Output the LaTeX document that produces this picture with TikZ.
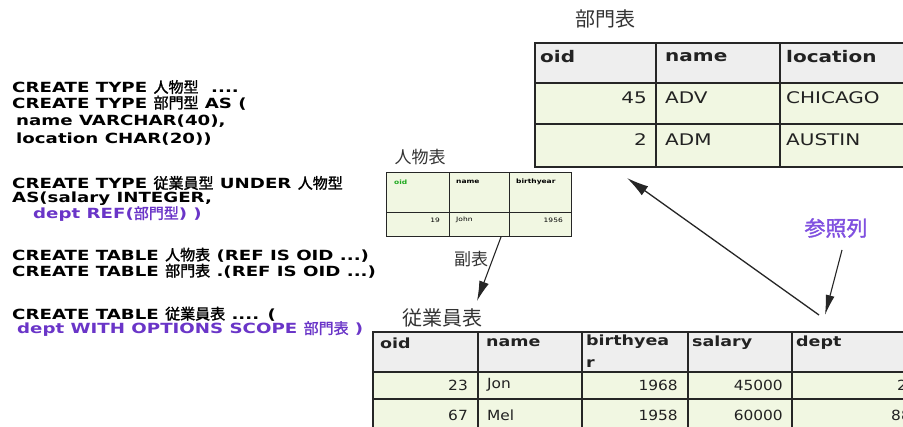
\documentclass[tikz,border=0pt]{standalone}
\usepackage{fontspec}
\usetikzlibrary{arrows.meta}
\setmainfont{DejaVu Sans}
\newfontfamily\cjk{Noto Sans CJK JP}
\newfontfamily\cjkb{Noto Sans CJK JP}[FakeBold=1.5]
\newfontfamily\codef{DejaVu Sans Bold}[FakeStretch=1.3]
\newfontfamily\tabr{DejaVu Sans}[FakeStretch=1.25]
\newfontfamily\tabrn{DejaVu Sans}[FakeStretch=1.1]
\newfontfamily\tabb{DejaVu Sans Bold}[FakeStretch=1.25]
\definecolor{dfill}{HTML}{F1F7E2}
\definecolor{hfill}{HTML}{EEEEEE}
\definecolor{purp}{HTML}{6A35C8}
\definecolor{refc}{HTML}{8050E0}
\definecolor{grn}{HTML}{22AA22}
\definecolor{txt}{HTML}{222222}
\newcommand\cj[1]{{\fontsize{15}{15}\cjkb #1}}
\begin{document}
\begin{tikzpicture}[x=1pt,y=-1pt,
  code/.style={anchor=west, inner sep=0pt, font=\fontsize{14}{14}\codef},
  tline/.style={draw=black!85, line width=1.3pt},
  thin/.style={draw=black!85, line width=1pt},
  th/.style={anchor=west, inner sep=0pt, text=txt, font=\fontsize{16}{16}\tabb},
  td/.style={anchor=west, inner sep=0pt, text=txt, font=\fontsize{16}{16}\tabr},
  tdr/.style={anchor=east, inner sep=0pt, text=txt, font=\fontsize{16}{16}\tabr},
  lh/.style={anchor=west, inner sep=0pt, text=txt, font=\fontsize{14}{22}\tabb},
  ld/.style={anchor=west, inner sep=0pt, text=txt, font=\fontsize{14}{14}\tabrn},
  ldr/.style={anchor=east, inner sep=0pt, text=txt, font=\fontsize{14}{14}\tabrn},
  sh/.style={anchor=west, inner sep=0pt, font=\fontsize{6}{6}\tabb},
  sd/.style={anchor=west, inner sep=0pt, font=\fontsize{6}{6}\tabr},
  sdr/.style={anchor=east, inner sep=0pt, font=\fontsize{6}{6}\tabr},
  title/.style={inner sep=0pt, text=black!80},
  arr/.style={draw=black!85, line width=1.3pt, -{Latex[length=22pt,width=11pt]}}
]
\useasboundingbox (0,0) rectangle (903,427);
\clip (0,0) rectangle (903,427);
\fill[white] (0,0) rectangle (903,427);

% ---- code text ----
\node[code] (c1) at (12,87) {CREATE TYPE \cj{人物型}\ \ ....};
\node[code] (c2) at (12,103) {CREATE TYPE \cj{部門型} AS (};
\node[code] (c3) at (16,121) {name VARCHAR(40),};
\node[code] (c4) at (16,139) {location CHAR(20))};
\node[code] (c5) at (12,183) {CREATE TYPE \cj{従業員型} UNDER \cj{人物型}};
\node[code] (c6) at (12,199) {AS(salary INTEGER,};
\node[code, text=purp] (c7) at (33,214) {dept REF(\cj{部門型}) )};
\node[code] (c8) at (12,255) {CREATE TABLE \cj{人物表} (REF IS OID ...)};
\node[code] (c9) at (12,271) {CREATE TABLE \cj{部門表} .(REF IS OID ...)};
\node[code] (c10) at (12,314) {CREATE TABLE \cj{従業員表} .... (};
\node[code, text=purp] (c11) at (17,329) {dept WITH OPTIONS SCOPE \cj{部門表} )};

% ---- 部門表 ----
\node[title, font=\fontsize{20}{20}\cjk] (tdept) at (605,19) {部門表};
\fill[hfill] (535,43) rectangle (920,83);
\fill[dfill] (535,83) rectangle (920,167);
\draw[tline] (535,43) rectangle (920,167);
\draw[tline] (535,83) -- (920,83);
\draw[tline] (535,124) -- (920,124);
\draw[tline] (656,43) -- (656,167);
\draw[tline] (780,43) -- (780,167);
\node[th] (d-oid) at (540,57) {oid};
\node[th] (d-name) at (665,57) {name};
\node[th] (d-loc) at (786,57) {location};
\node[tdr] (d-45) at (647,98) {45};
\node[td] (d-adv) at (665,98) {ADV};
\node[td] (d-chi) at (786,98) {CHICAGO};
\node[tdr] (d-2) at (647,140) {2};
\node[td] (d-adm) at (665,140) {ADM};
\node[td] (d-aus) at (786,140) {AUSTIN};

% ---- 人物表 ----
\node[title, font=\fontsize{17}{17}\cjk] (tpers) at (420,157) {人物表};
\fill[dfill] (386,173) rectangle (571,237);
\draw[thin] (386,173) rectangle (571,237);
\draw[thin] (386,213) -- (571,213);
\draw[thin] (449,173) -- (449,237);
\draw[thin] (509,173) -- (509,237);
\node[sh, text=grn] (p-oid) at (394,182) {oid};
\node[sh] (p-name) at (456,182) {name};
\node[sh] (p-by) at (516,182) {birthyear};
\node[sdr] (p-19) at (440,220) {19};
\node[sd] (p-john) at (456,220) {John};
\node[sdr] (p-1956) at (563,220) {1956};

% ---- 従業員表 ----
\node[title, font=\fontsize{20}{20}\cjk] (temp) at (442,318) {従業員表};
\fill[hfill] (373,332) rectangle (920,372);
\fill[dfill] (373,372) rectangle (920,440);
\draw[tline] (373,332) rectangle (920,440);
\draw[tline] (373,372) -- (920,372);
\draw[tline] (373,399) -- (920,399);
\draw[tline] (478,332) -- (478,440);
\draw[tline] (582,332) -- (582,440);
\draw[tline] (688,332) -- (688,440);
\draw[tline] (792,332) -- (792,440);
\node[lh] (e-oid) at (380,343) {oid};
\node[lh] (e-name) at (486,343) {name};
\node[lh, anchor=north west, align=left] (e-by) at (586,335) {birthyea\\r};
\node[lh] (e-sal) at (692,343) {salary};
\node[lh] (e-dept) at (796,343) {dept};
\node[ldr] (e-23) at (468,385) {23};
\node[ld] (e-jon) at (487,385) {Jon};
\node[ldr] (e-1968) at (678,385) {1968};
\node[ldr] (e-45000) at (783,385) {45000};
\node[ldr] (e-2) at (907,385) {2};
\node[ldr] (e-67) at (468,415) {67};
\node[ld] (e-mel) at (487,415) {Mel};
\node[ldr] (e-1958) at (678,415) {1958};
\node[ldr] (e-60000) at (783,415) {60000};
\node[ldr] (e-88) at (911,415) {88};

% ---- labels and arrows ----
\node[title, font=\fontsize{17}{17}\cjk] (lsub) at (471,259) {副表};
\node[inner sep=0pt, text=refc, font=\fontsize{21}{21}\cjkb] (lref) at (836,228) {参照列};
\coordinate (a1s) at (501,237);
\coordinate (a1e) at (477,301);
\coordinate (a2s) at (819,315);
\coordinate (a2e) at (627,178);
\coordinate (a3s) at (842,250);
\coordinate (a3e) at (825,315);
\draw[arr, line width=1.1pt, -{Latex[length=20pt,width=10pt]}] (a1s) -- (a1e);
\draw[arr] (a2s) -- (a2e);
\draw[arr, line width=1.1pt, -{Latex[length=20pt,width=9pt]}] (a3s) -- (a3e);
\end{tikzpicture}
\end{document}
